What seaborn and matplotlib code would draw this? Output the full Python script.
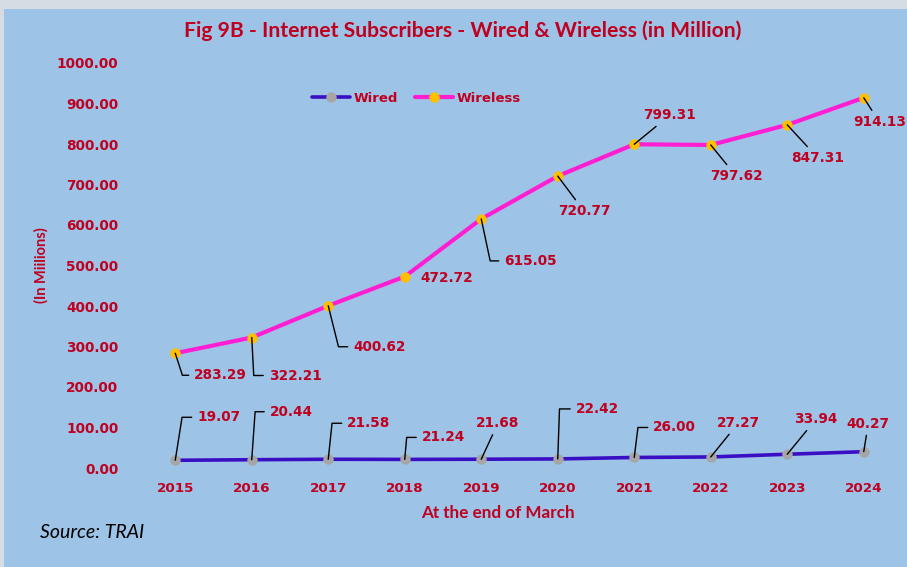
import numpy as np
import pandas as pd
import seaborn as sns
import matplotlib.pyplot as plt
from matplotlib.lines import Line2D
from matplotlib.patches import Rectangle

# data
years = ['2015', '2016', '2017', '2018', '2019', '2020', '2021', '2022', '2023', '2024']
wired = [19.07, 20.44, 21.58, 21.24, 21.68, 22.42, 26.00, 27.27, 33.94, 40.27]
wireless = [283.29, 322.21, 400.62, 472.72, 615.05, 720.77, 799.31, 797.62, 847.31, 914.13]

# label placement (offset in pixels from point, leader style)
wireless_lbl = [(19, -22, 108), (17, -38, 93), (25, -41, 104), (16, -1, None), (23, -42, 102),
                (0, -35, 'd'), (9, 29, 'd'), (-1, -31, 'd'), (4, -33, 'd'), (-11, -24, 'd')]
wired_lbl = [(22, 43, 81), (18, 48, 86), (19, 36, 84), (17, 22, 85), (-5, 36, 'd'),
             (18, 50, 88), (19, 30, 83), (6, 34, 'd'), (7, 35, 'd'), (-17, 28, 'd')]

BG = '#9DC3E6'
RED = '#C00020'
WIRED_C = '#3A0FC4'
WIRELESS_C = '#FF1ED2'

sns.set_style('white')
plt.rcParams['font.family'] = ['DejaVu Sans']

df = pd.DataFrame({'Year': years, 'Wired': wired, 'Wireless': wireless})

fig = plt.figure(figsize=(9.07, 5.67), dpi=100)
fig.patch.set_facecolor('#D6DCE4')
fig.patches.append(Rectangle((4 / 907, 0), 1, 1 - 9 / 567, transform=fig.transFigure,
                             facecolor=BG, edgecolor='none', zorder=-5))

ax = fig.add_axes([137 / 907, 1 - 468 / 567, 765 / 907, 405 / 567])
ax.set_facecolor('none')

sns.lineplot(data=df, x='Year', y='Wired', ax=ax, color=WIRED_C, linewidth=2.6,
             marker='o', markersize=7.5, markerfacecolor='#A6A6A6', markeredgewidth=0, sort=False)
sns.lineplot(data=df, x='Year', y='Wireless', ax=ax, color=WIRELESS_C, linewidth=3.0,
             marker='o', markersize=7.5, markerfacecolor='#FFC000', markeredgewidth=0, sort=False)

ax.set_xlim(-0.5, 9.5)
ax.set_ylim(0, 1000)
ax.set_yticks(np.arange(0, 1001, 100))
ax.set_yticklabels([f'{v:.2f}' for v in np.arange(0, 1001, 100)])
ax.tick_params(axis='y', length=0, pad=13.5, labelsize=9.8, labelcolor=RED)
ax.tick_params(axis='x', length=0, pad=10, labelsize=9.7, labelcolor=RED)
for lab in ax.get_xticklabels() + ax.get_yticklabels():
    lab.set_fontweight('bold')
ax.set_xlabel('')
ax.set_ylabel('')
sns.despine(ax=ax, left=True, bottom=True)


def add_labels(values, styles):
    for i, (v, (dx, dy, kind)) in enumerate(zip(values, styles)):
        kw = dict(textcoords='offset pixels', xytext=(dx, dy), ha='left', va='center',
                  fontsize=9.8, fontweight='bold', color=RED, annotation_clip=False)
        if kind == 'd':
            kw['arrowprops'] = dict(arrowstyle='-', color='black', lw=1.0, shrinkA=1, shrinkB=0)
        elif kind is not None:
            kw['arrowprops'] = dict(arrowstyle='-', color='black', lw=1.0, patchA=None,
                                    shrinkA=4, shrinkB=0, relpos=(0, 0.5),
                                    connectionstyle=f'angle,angleA=0,angleB={kind},rad=0')
        ax.annotate(f'{v:.2f}', xy=(i, v), **kw)


add_labels(wireless, wireless_lbl)
add_labels(wired, wired_lbl)

handles = [Line2D([], [], color=WIRED_C, lw=2.6, marker='o', markersize=7.5,
                  markerfacecolor='#A6A6A6', markeredgewidth=0),
           Line2D([], [], color=WIRELESS_C, lw=3.0, marker='o', markersize=7.5,
                  markerfacecolor='#FFC000', markeredgewidth=0)]
leg = fig.legend(handles, ['Wired', 'Wireless'], loc='center', bbox_to_anchor=(416 / 907, 1 - 98 / 567),
                 ncol=2, frameon=False, handlelength=2.9, handletextpad=0.25, columnspacing=1.3,
                 prop={'weight': 'bold', 'size': 9.5}, labelcolor=RED)

fig.text(463 / 907, 1 - 31 / 567, 'Fig 9B - Internet Subscribers - Wired & Wireless (in Million)',
         ha='center', va='center', fontsize=15.2, fontweight='bold', color=RED, family=['Lato', 'DejaVu Sans'])
fig.text(498 / 907, 1 - 513 / 567, 'At the end of March', ha='center', va='center',
         fontsize=12.3, fontweight='bold', color=RED, family=['Lato', 'DejaVu Sans'])
fig.text(41 / 907, 1 - 265 / 567, '(In Miilions)', ha='center', va='center', rotation=90,
         fontsize=10.5, fontweight='bold', color=RED, family=['Lato', 'DejaVu Sans'])
fig.text(40 / 907, 1 - 533 / 567, 'Source: TRAI', ha='left', va='center',
         fontsize=14, style='italic', color='black', family=['Lato', 'DejaVu Sans'])

fig.savefig('out.png', dpi=100, facecolor=fig.get_facecolor())
